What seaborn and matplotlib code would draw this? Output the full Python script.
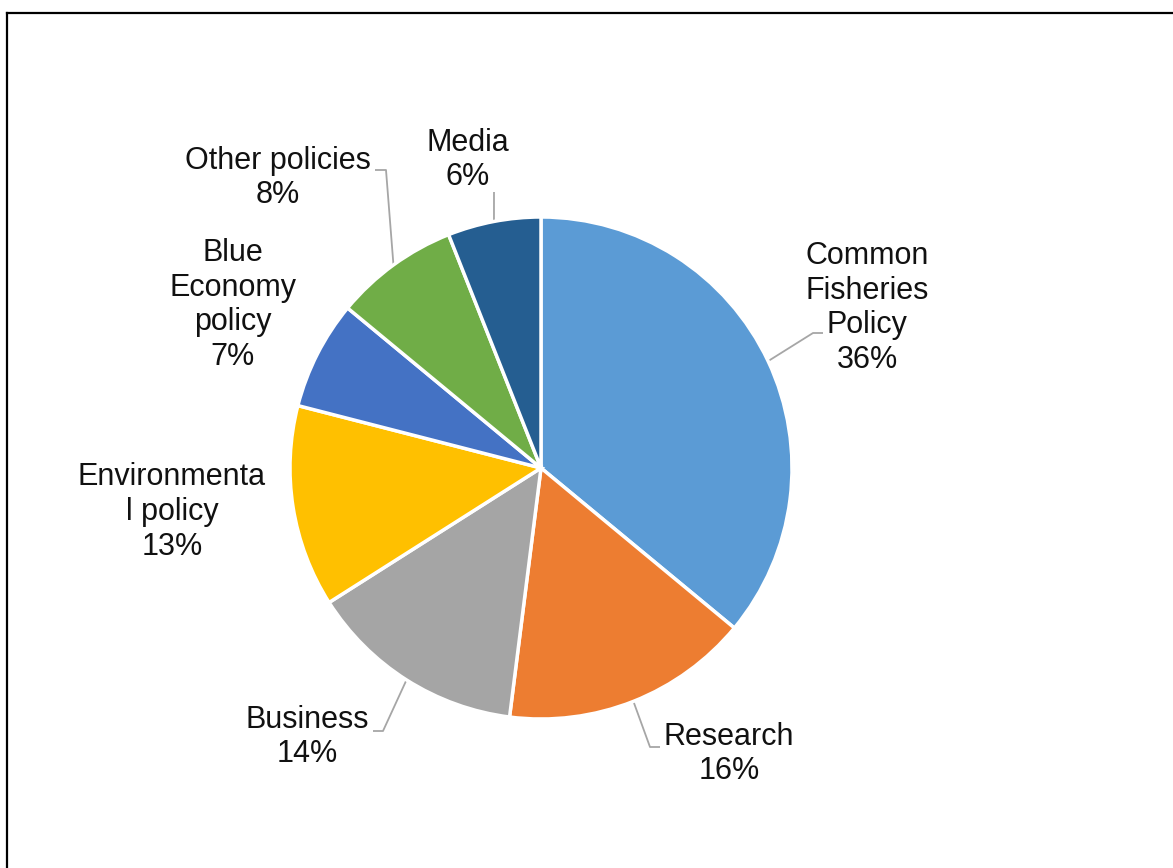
import numpy as np
import matplotlib
matplotlib.use("Agg")
import matplotlib.pyplot as plt
from matplotlib.lines import Line2D
import seaborn as sns

# Shares of attention by policy area (percent), clockwise from 12 o'clock
categories = ["Common\nFisheries\nPolicy", "Research", "Business",
              "Environmenta\nl policy", "Blue\nEconomy\npolicy",
              "Other policies", "Media"]
shares = [36, 16, 14, 13, 7, 8, 6]
colors = ["#5B9BD5", "#ED7D31", "#A5A5A5", "#FFC000",
          "#4472C4", "#70AD47", "#255E91"]

sns.set_theme(style="white")
plt.rcParams["font.family"] = ["Liberation Sans", "DejaVu Sans"]

W, H = 1173, 868
fig = plt.figure(figsize=(W / 100, H / 100), dpi=100)
ax = fig.add_axes([0, 0, 1, 1])

cx, cy, r = 541, H - 468, 251
palette = sns.color_palette(colors)
wedges, _ = ax.pie(shares, colors=palette, startangle=90, counterclock=False,
                   center=(cx, cy), radius=r, frame=True,
                   wedgeprops=dict(edgecolor="white", linewidth=2.5))
ax.set_xlim(0, W)
ax.set_ylim(0, H)
ax.set_aspect("equal")
ax.axis("off")

# label block centres (image y measured downward) and optional leader elbows
label_pos = [(867, 308), (729, 754), (307, 737), (172, 512),
             (233, 305), (278, 178), (468, 160)]
leaders = [
    [(813, 333), (823, 333)],
    [(650, 747), (660, 747)],
    [(383, 731), (373, 731)],
    None,
    None,
    [(386, 170), (375, 170)],
    [(494, 192)],
]

for w, name, val, (lx, ly), ld in zip(wedges, categories, shares, label_pos, leaders):
    ax.text(lx, H - ly, f"{name}\n{val}%", ha="center", va="center",
            multialignment="center", fontsize=22, color="#111111",
            linespacing=1.2)
    if ld is not None:
        ang = np.deg2rad((w.theta1 + w.theta2) / 2)
        sx, sy = cx + r * np.cos(ang), cy + r * np.sin(ang)
        xs = [sx] + [p[0] for p in ld]
        ys = [sy] + [H - p[1] for p in ld]
        ax.plot(xs, ys, color="#A6A6A6", linewidth=1.3, solid_capstyle="butt",
                zorder=0)

# outer frame (left and top edges)
fig.add_artist(Line2D([7 / W, 7 / W], [0, 1 - 13 / H], transform=fig.transFigure,
                      color="black", linewidth=1.6, solid_capstyle="projecting"))
fig.add_artist(Line2D([7 / W, 1], [1 - 13 / H, 1 - 13 / H], transform=fig.transFigure,
                      color="black", linewidth=1.6, solid_capstyle="projecting"))

fig.savefig("out.png", dpi=100, facecolor="white")
